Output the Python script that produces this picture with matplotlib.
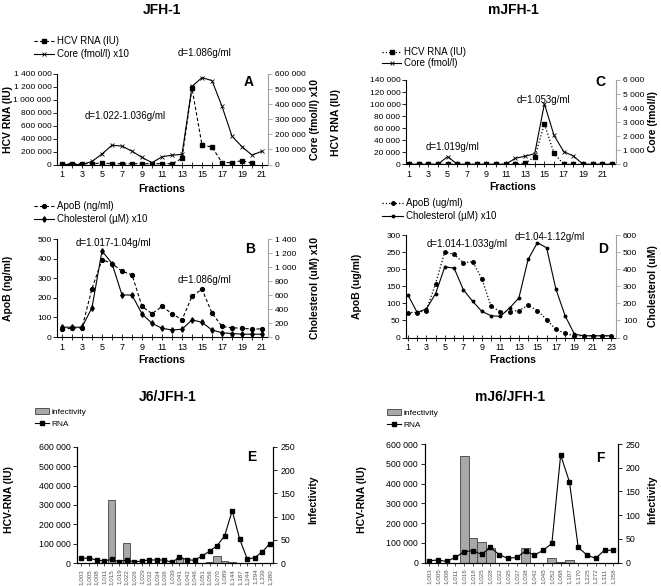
import matplotlib.pyplot as plt
from matplotlib.ticker import FuncFormatter, MultipleLocator
import numpy as np

plt.rcParams['font.family'] = ['Liberation Sans', 'DejaVu Sans']

W, H = 661, 586

# ---- data -------------------------------------------------------------
# A: JFH-1, HCV RNA (IU) and core (fmol/l) x10
frac_a = np.arange(1, 22)
rna_a = [10000, 10000, 10000, 15000, 20000, 15000, 10000, 10000, 15000, 10000,
         15000, 10000, 95000, 1180000, 300000, 270000, 30000, 30000, 60000, 20000, np.nan]
core_a = [0, 0, 0, 20000, 70000, 128000, 122000, 88000, 47000, 12000,
          51000, 62000, 67000, 518000, 576000, 556000, 386000, 188000, 118000, 62000, 88000]

# B: JFH-1, ApoB (ng/ml) and cholesterol (uM) x10
frac_b = np.arange(1, 22)
apob_b = [40, 45, 47, 247, 395, 375, 335, 318, 156, 119,
          156, 119, 88, 208, 244, 122, 54, 47, 45, 40, 42]
chol_b = [140, 140, 140, 420, 1230, 1050, 600, 600, 330, 195,
          125, 100, 110, 245, 210, 100, 60, 50, 40, 40, 40]

# C: mJFH-1, HCV RNA (IU) and core (fmol/l)
frac_c = np.arange(1, 23)
rna_c = [0, 0, 0, 0, 0, 0, 0, 0, 0, 0, 0, 0,
         2000, 12000, 67000, 18000, 0, 0, 0, 0, 0, 0]
core_c = [0, 0, 0, 0, 550, 0, 0, 0, 0, 0, 0, 430,
          570, 760, 4300, 2050, 900, 590, 0, 0, 0, 0]

# D: mJFH-1, ApoB (ug/ml) and cholesterol (uM)
frac_d = np.arange(1, 24)
apob_d = [73, 73, 79, 158, 251, 243, 219, 222, 172, 91, 76, 76,
          79, 94, 79, 52, 24, 12, 5, 5, 5, 5, 5]
chol_d = [250, 147, 167, 257, 414, 406, 280, 212, 153, 127, 124, 173,
          231, 457, 555, 525, 284, 127, 20, 10, 10, 10, 10]

# E: J6/JFH-1 density gradient
dens_e = ['1,003', '1,005', '1,008', '1,011', '1,015', '1,019', '1,022', '1,026',
          '1,029', '1,032', '1,034', '1,036', '1,039', '1,041', '1,042', '1,046',
          '1,051', '1,056', '1,070', '1,089', '1,144', '1,187', '1,244', '1,294',
          '1,339', '1,380']
rna_e = [25000, 27000, 17000, 12000, 20000, 8500, 17000, 7000, 12000, 17000,
         17000, 17000, 5000, 31000, 19000, 15000, 38000, 62000, 91000, 142000,
         271000, 123000, 22000, 29000, 60000, 101000]
infect_e = [0, 0, 0, 0, 135, 0, 43, 0, 0, 0, 0, 0, 0, 12, 0, 0,
            0, 2, 15, 4, 2, 0, 0, 0, 0, 0]

# F: mJ6/JFH-1 density gradient
dens_f = ['1,003', '1,005', '1,008', '1,011', '1,016', '1,018', '1,025', '1,028',
          '1,032', '1,035', '1,037', '1,038', '1,042', '1,045', '1,052', '1,068',
          '1,107', '1,170', '1,225', '1,272', '1,311', '1,358']
rna_f = [10000, 13500, 6700, 27000, 55600, 60700, 42000, 77500, 40400, 22000,
         27000, 59000, 38800, 62000, 97700, 544000, 409000, 77500, 38800, 22000,
         64000, 62000]
infect_f = [0, 0, 0, 0, 225, 53, 43, 30, 0, 0, 0, 32, 0, 0, 9, 2,
            5, 0, 0, 0, 0, 0]

TICK = 6


# ---- helpers ----------------------------------------------------------
def rect(l, t, r, b):
    return [l / W, 1 - b / H, (r - l) / W, (b - t) / H]


def px(x, y):
    return (x / W, 1 - y / H)


def spaced(v, pos):
    return f"{int(round(v)):,}".replace(",", " ")


fig = plt.figure(figsize=(W / 100, H / 100), dpi=100)


def fraction_axes(box, n, xlim, yl, yr, stepl, stepr):
    ax = fig.add_axes(rect(*box))
    ax2 = ax.twinx()
    for a in (ax, ax2):
        a.spines['top'].set_visible(False)
        for s in a.spines.values():
            s.set_linewidth(0.8)
    ax.spines['right'].set_visible(False)
    ax2.spines['left'].set_visible(False)
    ax2.spines['bottom'].set_visible(False)
    ax2.spines['right'].set_color('#a0a0a0')
    ax.set_xlim(*xlim)
    ax.set_xticks(range(1, n + 1))
    ax.set_xticklabels([str(i) if i % 2 else '' for i in range(1, n + 1)])
    ax.set_ylim(0, yl)
    ax2.set_ylim(0, yr)
    ax.yaxis.set_major_locator(MultipleLocator(stepl))
    ax2.yaxis.set_major_locator(MultipleLocator(stepr))
    ax.yaxis.set_major_formatter(FuncFormatter(spaced))
    ax2.yaxis.set_major_formatter(FuncFormatter(spaced))
    ax.tick_params(axis='x', direction='inout', length=4, width=0.6, labelsize=TICK + 0.5, pad=2)
    ax.tick_params(axis='y', direction='out', length=3, width=0.6, labelsize=TICK, pad=1)
    ax2.tick_params(axis='y', direction='out', length=3, width=0.6, labelsize=TICK,
                    pad=2, color='#a0a0a0')
    return ax, ax2


def legend(handles, labels, x, y, fs=7, hl=2.1, ls=0.3):
    fig.legend(handles, labels, loc='upper left', bbox_to_anchor=px(x, y),
               frameon=False, fontsize=fs, handlelength=hl, handletextpad=0.3,
               labelspacing=ls, borderpad=0, borderaxespad=0)


def label(x, y, s, size=7, bold=False, rot=0):
    fig.text(*px(x, y), s, ha='center', va='center', fontsize=size,
             fontweight='bold' if bold else 'normal', rotation=rot)


# ---- titles -----------------------------------------------------------
label(162, 10, 'JFH-1', 10, True)
label(513, 10, 'mJFH-1', 10, True)
label(168, 397, 'J6/JFH-1', 10, True)
label(510, 397, 'mJ6/JFH-1', 10, True)

# ---- A ----------------------------------------------------------------
ax, ax2 = fraction_axes((57, 74, 268, 164.5), 21, (0.5, 21.6), 1400000, 600000, 200000, 100000)
la, = ax.plot(frac_a, rna_a, color='black', ls=(0, (3, 2)), lw=0.8, marker='s', ms=3)
lb, = ax2.plot(frac_a, core_a, color='black', lw=0.8, marker='x', ms=3.2, mew=0.6)
legend([la, lb], ['HCV RNA (IU)', 'Core (fmol/l) x10'], 34, 36)
label(162, 189, 'Fractions', 7.5, True)
label(8, 120, 'HCV RNA (IU)', 7.5, True, 90)
label(315, 120, 'Core (fmol/l) x10', 7.5, True, 90)
label(204, 53, 'd=1.086g/ml')
label(125, 116, 'd=1.022-1.036g/ml')
label(249, 82, 'A', 10, True)

# ---- B ----------------------------------------------------------------
ax, ax2 = fraction_axes((57, 239, 268, 337), 21, (0.5, 21.6), 500, 1400, 100, 200)
la, = ax.plot(frac_b, apob_b, color='black', ls=(0, (3, 2)), lw=0.8, marker='o', ms=2.8)
lb, = ax2.plot(frac_b, chol_b, color='black', lw=0.8, marker='d', ms=2.8)
legend([la, lb], ['ApoB (ng/ml)', 'Cholesterol (µM) x10'], 34, 201)
label(162, 360, 'Fractions', 7.5, True)
label(8, 288, 'ApoB (ng/ml)', 7.5, True, 90)
label(315, 288, 'Cholesterol (uM) x10', 7.5, True, 90)
label(113, 243, 'd=1.017-1.04g/ml')
label(204, 280, 'd=1.086g/ml')
label(250, 249, 'B', 10, True)

# ---- C ----------------------------------------------------------------
ax, ax2 = fraction_axes((406, 80, 616, 164.3), 22, (0.7, 22.4), 140000, 6000, 20000, 1000)
la, = ax.plot(frac_c, rna_c, color='black', ls=':', lw=0.9, marker='s', ms=3)
lb, = ax2.plot(frac_c, core_c, color='black', lw=0.8, marker='x', ms=3.2, mew=0.6)
legend([la, lb], ['HCV RNA (IU)', 'Core (fmol/l)'], 382, 47, ls=0.15, hl=2.0)
label(513, 187, 'Fractions', 7.5, True)
label(336, 122, 'HCV RNA (IU)', 7.5, True, 90)
label(653, 122, 'Core (fmol/l)', 7.5, True, 90)
label(543, 100, 'd=1.053g/ml')
label(453, 147, 'd=1.019g/ml')
label(600, 82, 'C', 10, True)

# ---- D ----------------------------------------------------------------
ax, ax2 = fraction_axes((406, 235, 616, 337.5), 23, (0.8, 23.5), 300, 600, 50, 100)
la, = ax.plot(frac_d, apob_d, color='black', ls=':', lw=0.9, marker='o', ms=2.5)
lb, = ax2.plot(frac_d, chol_d, color='black', lw=0.8, marker='o', ms=1.8)
legend([la, lb], ['ApoB (ug/ml)', 'Cholesterol (µM) x10'], 382, 198, hl=2.2)
label(513, 360, 'Fractions', 7.5, True)
label(357, 286, 'ApoB (ug/ml)', 7.5, True, 90)
label(653, 286, 'Cholesterol (uM)', 7.5, True, 90)
label(467, 244, 'd=1.014-1.033g/ml')
label(550, 237, 'd=1.04-1.12g/ml')
label(603, 249, 'D', 10, True)


# ---- E / F ------------------------------------------------------------
def density_axes(box, dens, rna, infect, xlim):
    ax = fig.add_axes(rect(*box))
    ax2 = ax.twinx()
    x = np.arange(len(dens))
    bars = ax2.bar(x, infect, width=1.0, color='#a8a8a8', edgecolor='#404040', linewidth=0.6)
    line, = ax.plot(x, rna, color='black', lw=0.8, marker='s', ms=3.2)
    ax.set_zorder(ax2.get_zorder() + 1)
    ax.patch.set_visible(False)
    for a in (ax, ax2):
        a.spines['top'].set_visible(False)
        for s in a.spines.values():
            s.set_linewidth(0.8)
    ax.set_xlim(*xlim)
    ax.set_ylim(0, 600000)
    ax2.set_ylim(0, 250)
    ax.yaxis.set_major_locator(MultipleLocator(100000))
    ax2.yaxis.set_major_locator(MultipleLocator(50))
    ax.yaxis.set_major_formatter(FuncFormatter(spaced))
    ax.set_xticks(x)
    ax.set_xticklabels(dens, rotation=90, fontsize=4.5, color='#555555')
    ax.tick_params(axis='x', length=2, width=0.5, pad=2)
    ax.tick_params(axis='y', direction='out', length=3, width=0.6, labelsize=TICK + 0.3, pad=2)
    ax2.tick_params(axis='y', direction='out', length=3, width=0.6, labelsize=TICK + 0.3, pad=2)
    return bars, line


bars, line = density_axes((77.3, 446.7, 273.3, 563.3), dens_e, rna_e, infect_e, (-0.55, 25.45))
legend([bars, line], ['infectivity', 'RNA'], 35, 408, fs=6, hl=1.7, ls=0.5)
label(9, 500, 'HCV-RNA (IU)', 7.5, True, 90)
label(313, 500, 'Infectivity', 7.5, True, 90)
label(252, 457, 'E', 10, True)

bars, line = density_axes((425, 444, 618.3, 562.7), dens_f, rna_f, infect_f, (-0.46, 21.57))
legend([bars, line], ['infectivity', 'RNA'], 387, 409, fs=6, hl=1.7, ls=0.5)
label(362, 500, 'HCV-RNA (IU)', 7.5, True, 90)
label(652, 500, 'Infectivity', 7.5, True, 90)
label(600, 458, 'F', 10, True)

fig.savefig('out.png', dpi=100)
